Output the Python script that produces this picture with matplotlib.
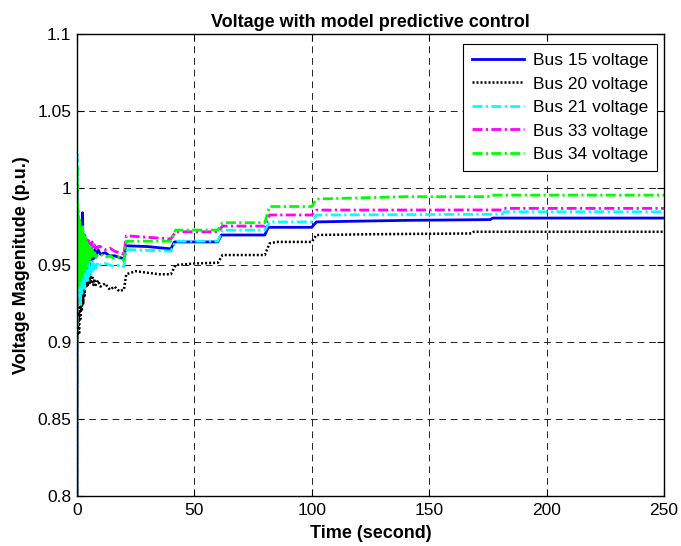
import matplotlib
matplotlib.use("Agg")
import matplotlib.pyplot as plt

plt.rcParams['font.family'] = ['Liberation Sans', 'DejaVu Sans']

# Time breakpoints (s) and voltages (p.u.)
t_early = [0, 0.05, 0.3, 0.6, 0.9, 1.2, 1.5, 1.8, 2.1, 2.4, 2.7, 3.0, 3.3, 3.6, 3.9, 4.2, 4.5, 4.8, 5.2, 5.6, 6.0, 6.5, 7.0, 7.5, 8.0,
           9.0, 10, 12, 14, 16, 18, 20]

v15_early = [0.80, 0.99, 0.94, 0.965, 0.93, 0.97, 0.925, 0.975, 0.94, 0.984, 0.945, 0.97, 0.94, 0.965, 0.945, 0.962, 0.948, 0.96, 0.95, 0.962, 0.952, 0.96, 0.954, 0.96, 0.955,
             0.96, 0.957, 0.958, 0.956, 0.956, 0.955, 0.954]
v20_early = [0.80, 0.91, 0.90, 0.92, 0.905, 0.925, 0.915, 0.93, 0.92, 0.935, 0.925, 0.94, 0.93, 0.945, 0.935, 0.942, 0.936, 0.943, 0.937, 0.944, 0.938, 0.943, 0.937, 0.941, 0.937,
             0.94, 0.936, 0.938, 0.934, 0.936, 0.933, 0.934]
v21_early = [0.80, 1.022, 0.94, 0.97, 0.93, 0.96, 0.923, 0.955, 0.93, 0.96, 0.935, 0.955, 0.935, 0.955, 0.94, 0.953, 0.94, 0.952, 0.943, 0.952, 0.945, 0.953, 0.947, 0.952, 0.948,
             0.952, 0.95, 0.951, 0.95, 0.949, 0.95, 0.949]
v33_early = [0.80, 1.00, 0.95, 0.975, 0.945, 0.972, 0.945, 0.97, 0.952, 0.968, 0.955, 0.968, 0.955, 0.967, 0.957, 0.966, 0.958, 0.966, 0.96, 0.965, 0.962, 0.965, 0.961, 0.963, 0.961,
             0.962, 0.962, 0.960, 0.961, 0.959, 0.958, 0.957]
v34_early = [0.80, 1.013, 0.935, 0.985, 0.935, 0.98, 0.94, 0.975, 0.942, 0.975, 0.945, 0.97, 0.945, 0.968, 0.948, 0.965, 0.95, 0.963, 0.952, 0.962, 0.955, 0.96, 0.955, 0.958, 0.955,
             0.957, 0.957, 0.955, 0.956, 0.954, 0.955, 0.953]

t_bus15 = [20.8, 30, 40, 41.5, 60, 61.5, 80, 81.5, 100, 102, 120, 140, 176, 177, 250]
v_bus15 = [0.9625, 0.962, 0.9605, 0.965, 0.965, 0.9695, 0.9695, 0.9745, 0.9745, 0.978, 0.9785, 0.979, 0.9795, 0.9805, 0.9805]

t_bus20 = [21, 25, 30, 35, 40, 42, 50, 60, 62, 80, 82, 85, 100, 102, 125, 168, 169, 250]
v_bus20 = [0.944, 0.946, 0.945, 0.944, 0.944, 0.950, 0.951, 0.9515, 0.9565, 0.9565, 0.964, 0.965, 0.965, 0.9695, 0.970, 0.9705, 0.9716, 0.9716]

t_bus21 = [21, 40, 42, 60, 62, 80, 82, 100, 102, 181, 182, 250]
v_bus21 = [0.960, 0.959, 0.9655, 0.9655, 0.9727, 0.9727, 0.978, 0.978, 0.9825, 0.983, 0.9846, 0.9846]

t_bus33 = [21, 30, 40, 42, 60, 62, 80, 82, 100, 102, 181, 182, 250]
v_bus33 = [0.969, 0.968, 0.967, 0.9716, 0.9716, 0.9753, 0.9753, 0.9825, 0.9825, 0.9857, 0.9858, 0.9868, 0.9868]

t_bus34 = [21, 40, 42, 60, 62, 80, 82, 100, 102, 140, 175, 176, 250]
v_bus34 = [0.9655, 0.9655, 0.9727, 0.9727, 0.9775, 0.9775, 0.988, 0.988, 0.9929, 0.9944, 0.9944, 0.9954, 0.9954]

labels = ["Bus 15 voltage", "Bus 20 voltage", "Bus 21 voltage", "Bus 33 voltage", "Bus 34 voltage"]
x_ticks = [0, 50, 100, 150, 200, 250]
y_ticks = [0.8, 0.85, 0.9, 0.95, 1.0, 1.05, 1.1]
y_tick_labels = ["0.8", "0.85", "0.9", "0.95", "1", "1.05", "1.1"]

fig = plt.figure(figsize=(6.81, 5.46), dpi=100)
ax = fig.add_axes([0.113, 0.0916, 0.862, 0.846])

dashdot = (0, (3.6, 1.2, 0.8, 1.2))
ax.plot(t_early + t_bus15, v15_early + v_bus15, color=(0, 0, 1), lw=2.0, ls='-', label=labels[0])
ax.plot(t_early + t_bus20, v20_early + v_bus20, color='black', lw=1.8, ls=(0, (0.8, 0.8)), label=labels[1])
ax.plot(t_early + t_bus21, v21_early + v_bus21, color=(0, 1, 1), lw=2.0, ls=dashdot, label=labels[2])
ax.plot(t_early + t_bus33, v33_early + v_bus33, color=(1, 0, 1), lw=2.0, ls=dashdot, label=labels[3])
ax.plot(t_early + t_bus34, v34_early + v_bus34, color=(0, 1, 0), lw=2.0, ls=dashdot, label=labels[4])

ax.set_xlim(0, 250)
ax.set_ylim(0.8, 1.1)
ax.set_xticks(x_ticks)
ax.set_yticks(y_ticks)
ax.set_yticklabels(y_tick_labels)
ax.tick_params(direction='in', top=True, right=True, length=5, labelsize=12.5)
ax.tick_params(axis='x', pad=5)
ax.tick_params(axis='y', pad=4)
ax.grid(True, color='#222222', ls=(0, (7, 5)), lw=0.7)
for s in ax.spines.values():
    s.set_linewidth(1.0)

ax.set_title("Voltage with model predictive control", fontsize=13, fontweight='bold', pad=5)
ax.set_xlabel("Time (second)", fontsize=13, fontweight='bold', labelpad=5)
ax.set_ylabel("Voltage Magenitude (p.u.)", fontsize=13, fontweight='bold', labelpad=5)

leg = ax.legend(loc='upper right', bbox_to_anchor=(0.988, 0.978), borderaxespad=0, fontsize=12.5,
                frameon=True, fancybox=False, edgecolor='black', framealpha=1, handlelength=3.0,
                handletextpad=0.5, labelspacing=0.48, borderpad=0.5)
leg.get_frame().set_linewidth(0.8)

fig.savefig("out.png", dpi=100)
